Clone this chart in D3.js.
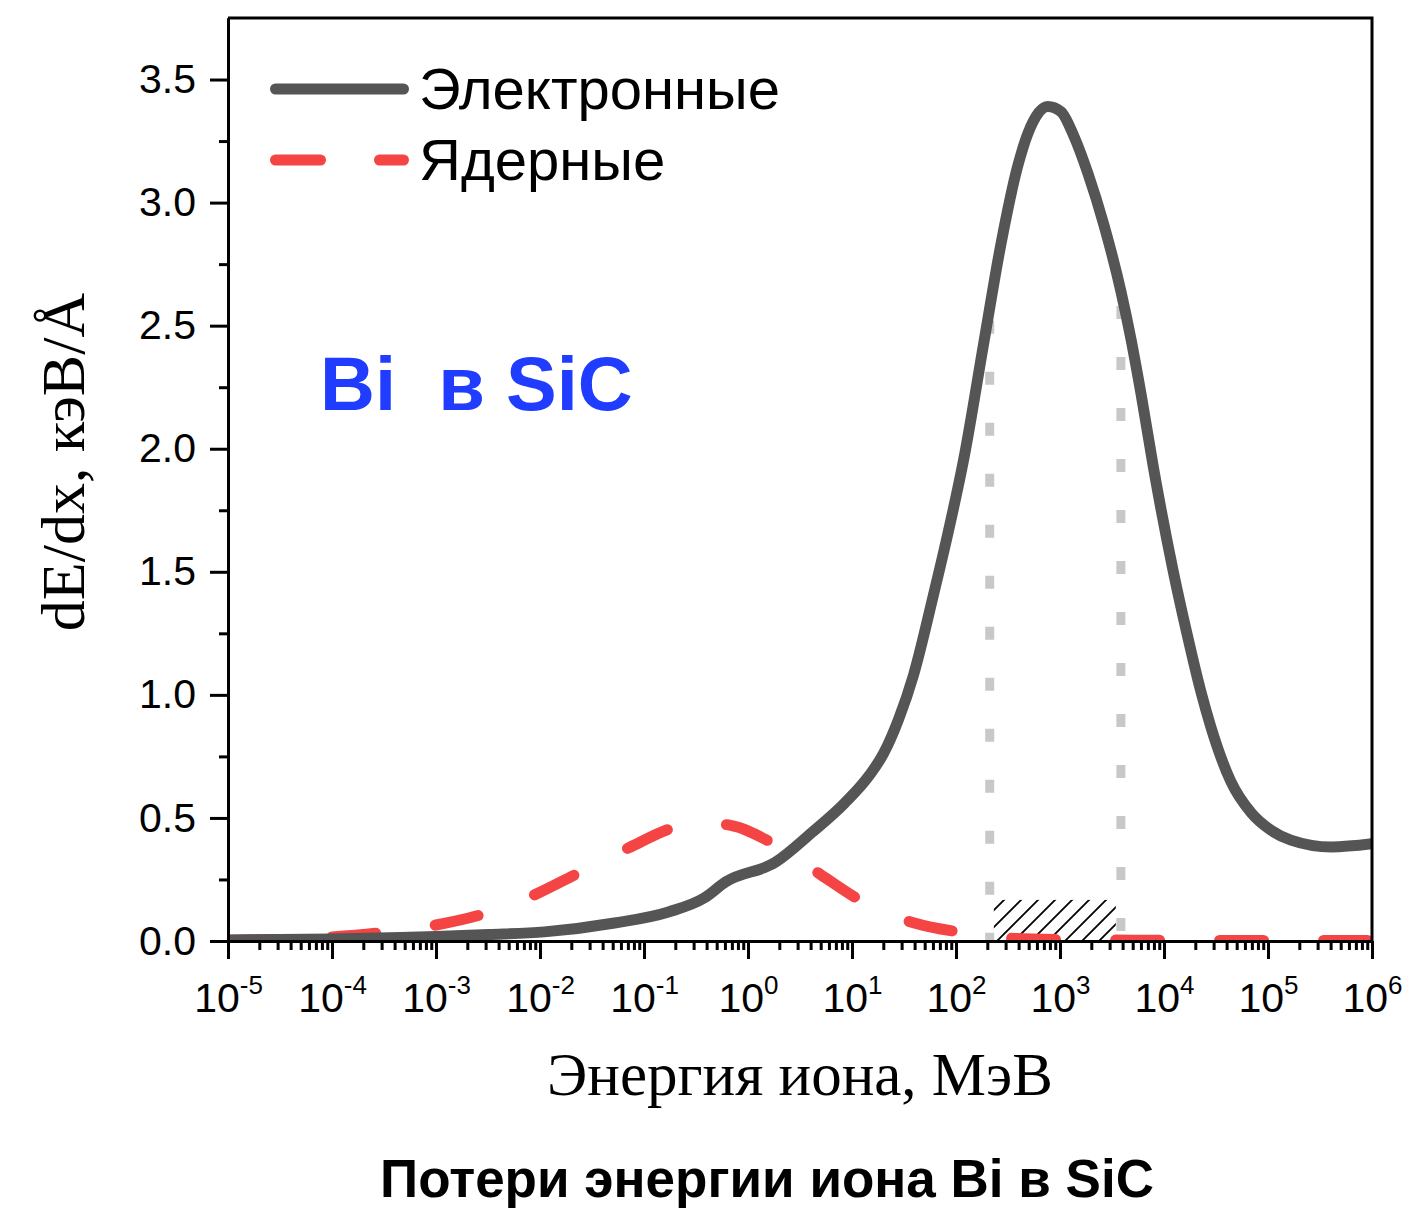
<!DOCTYPE html>
<html>
<head>
<meta charset="utf-8">
<script src="https://cdn.jsdelivr.net/npm/d3@7"></script>
<style>
  body { margin: 0; background: #fff; }
  svg text { font-family: "Liberation Sans", Arial, sans-serif; }
</style>
</head>
<body>
<div id="canvas"></div>
<script>
// Электронные потери (energy, MeV -> keV/A)
var elecEnergy = [1e-5, 1e-4, 4.6e-4, 1e-3, 3.2e-3, 0.011, 0.052, 0.172, 0.38, 0.61, 1.84, 4.1, 8.5, 14.5, 20, 28, 39, 61, 83, 119, 185, 270, 393, 490, 764, 1020, 1360, 1850, 2640, 3850, 4790, 6030, 7940, 12300, 16600, 22400, 28200, 43700, 69200, 107000, 166000, 407000, 1e6];
var elecValue  = [0.004, 0.008, 0.014, 0.018, 0.026, 0.037, 0.073, 0.118, 0.175, 0.24, 0.32, 0.44, 0.56, 0.67, 0.76, 0.90, 1.08, 1.41, 1.65, 1.96, 2.43, 2.83, 3.15, 3.28, 3.39, 3.37, 3.27, 3.12, 2.91, 2.64, 2.45, 2.22, 1.92, 1.50, 1.25, 1.02, 0.87, 0.65, 0.52, 0.45, 0.41, 0.382, 0.395];

// Ядерные потери
var nuclEnergy = [1e-5, 9.5e-5, 2.9e-4, 1e-3, 2.66e-3, 8.8e-3, 0.0219, 0.0724, 0.192, 0.355, 0.68, 1.68, 4.99, 12.3, 39.8, 123, 316, 1000, 1e4, 1e5, 1e6];
var nuclValue  = [0.003, 0.016, 0.033, 0.065, 0.106, 0.187, 0.27, 0.38, 0.46, 0.48, 0.47, 0.40, 0.27, 0.163, 0.073, 0.033, 0.012, 0.006, 0.003, 0.002, 0.002];

// energy window marked by dotted lines, with the line tops
var windowEnergy = [211, 3850];
var windowTop = [2.52, 2.58];
// hatched band
var hatchEnergy = [231, 3440];
var hatchHeight = 0.167;

var yTicks = [0, 0.5, 1.0, 1.5, 2.0, 2.5, 3.0, 3.5];
var xExponents = [-5, -4, -3, -2, -1, 0, 1, 2, 3, 4, 5, 6];

var seriesNames = ['Электронные', 'Ядерные'];
var colors = {elec: '#555555', nucl: '#f54444', dots: '#c8c8c8', label: '#1f3cff'};

var m = {t: 18, r: 34, b: 274, l: 228},
    W = 1406, H = 1215,
    w = W - m.l - m.r,
    h = H - m.t - m.b;

var svg = d3.select('#canvas').append('svg')
    .attr('width', W).attr('height', H);

var x = d3.scaleLog().domain([1e-5, 1e6]).range([m.l, m.l + w]);
var y = d3.scaleLinear().domain([0, 3.75]).range([m.t + h, m.t]);

svg.append('defs').append('clipPath').attr('id', 'clip')
  .append('rect').attr('x', m.l).attr('y', m.t).attr('width', w).attr('height', h);

var hatch = svg.select('defs').append('pattern').attr('id', 'hatch')
    .attr('patternUnits', 'userSpaceOnUse').attr('width', 17).attr('height', 17);
hatch.append('path').attr('d', 'M-2,19 L19,-2 M-4,4 L4,-4 M13,21 L21,13')
    .attr('stroke', '#000').attr('stroke-width', 1.8);

var plot = svg.append('g').attr('clip-path', 'url(#clip)');

// hatched band
plot.append('rect')
    .attr('x', x(hatchEnergy[0]))
    .attr('y', y(hatchHeight))
    .attr('width', x(hatchEnergy[1]) - x(hatchEnergy[0]))
    .attr('height', y(0) - y(hatchHeight))
    .attr('fill', 'url(#hatch)');

// dotted markers, drawn top-down so a dot sits at the top
plot.selectAll('.mark').data(windowEnergy).enter()
  .append('line').attr('class', 'mark')
    .attr('x1', function(d){return x(d)}).attr('x2', function(d){return x(d)})
    .attr('y1', function(d, i){return y(windowTop[i])}).attr('y2', y(0) + 7)
    .attr('stroke', colors.dots).attr('stroke-width', 9)
    .attr('stroke-dasharray', '13,38');

var line = d3.line()
    .x(function(d){return x(d[0])})
    .y(function(d){return y(d[1])})
    .curve(d3.curveMonotoneX);

var elec = elecEnergy.map(function(e, i){return [e, elecValue[i]]});
var nucl = nuclEnergy.map(function(e, i){return [e, nuclValue[i]]});

plot.append('path').datum(nucl)
    .attr('d', line)
    .attr('fill', 'none')
    .attr('stroke', colors.nucl).attr('stroke-width', 11)
    .attr('stroke-linecap', 'round').attr('stroke-linejoin', 'round')
    .attr('stroke-dasharray', '44,60');

plot.append('path').datum(elec)
    .attr('d', line)
    .attr('fill', 'none')
    .attr('stroke', colors.elec).attr('stroke-width', 11)
    .attr('stroke-linejoin', 'round');

// axes
var decades = xExponents.map(function(k){return Math.pow(10, k)});
var minors = [];
xExponents.slice(0, -1).forEach(function(k){
    for (var j = 2; j < 10; j++) minors.push(j * Math.pow(10, k));
});

function styleAxis(g){
    g.selectAll('path, line').attr('stroke', '#000').attr('stroke-width', 3);
}

svg.append('g').attr('transform', 'translate(0,' + y(0) + ')')
    .call(d3.axisBottom(x).tickValues(minors).tickSize(9).tickSizeOuter(0).tickFormat(''))
    .call(styleAxis);
var xAxis = svg.append('g').attr('transform', 'translate(0,' + y(0) + ')')
    .call(d3.axisBottom(x).tickValues(decades).tickSize(18).tickSizeOuter(0).tickFormat(''))
    .call(styleAxis);

xAxis.selectAll('.tick').append('text')
    .attr('y', 71)
    .attr('text-anchor', 'middle')
    .attr('fill', '#000')
    .style('font-size', '41px')
    .style('font-family', '"Liberation Sans", Arial, sans-serif')
    .each(function(d){
        var t = d3.select(this);
        t.append('tspan').text('10');
        t.append('tspan').attr('dy', -18).style('font-size', '26px')
            .text(String(Math.round(Math.log10(d))));
    });

var yMinor = d3.range(0.25, 3.75, 0.5);
svg.append('g').attr('transform', 'translate(' + m.l + ',0)')
    .call(d3.axisLeft(y).tickValues(yMinor).tickSize(9).tickSizeOuter(0).tickFormat(''))
    .call(styleAxis);
var yAxis = svg.append('g').attr('transform', 'translate(' + m.l + ',0)')
    .call(d3.axisLeft(y).tickValues(yTicks).tickSize(18).tickSizeOuter(0).tickPadding(14).tickFormat(d3.format('.1f')))
    .call(styleAxis);
yAxis.selectAll('text').style('font-size', '41px').attr('fill', '#000')
    .style('font-family', '"Liberation Sans", Arial, sans-serif');

// frame top/right
svg.append('path')
    .attr('d', 'M' + m.l + ',' + m.t + 'H' + (m.l + w) + 'V' + (m.t + h))
    .attr('fill', 'none').attr('stroke', '#000').attr('stroke-width', 3);

// legend
var legend = svg.append('g');
var legY = [89, 160];
legend.append('line').attr('x1', 275.5).attr('x2', 403.5).attr('y1', legY[0]).attr('y2', legY[0])
    .attr('stroke', colors.elec).attr('stroke-width', 11).attr('stroke-linecap', 'round');
legend.append('line').attr('x1', 275.5).attr('x2', 403.5).attr('y1', legY[1]).attr('y2', legY[1])
    .attr('stroke', colors.nucl).attr('stroke-width', 11).attr('stroke-linecap', 'round')
    .attr('stroke-dasharray', '45,59');
legend.selectAll('.lt').data(seriesNames).enter().append('text')
    .attr('x', 419).attr('y', function(d, i){return legY[i] + 20})
    .style('font-size', '58px').text(function(d){return d});

// in-plot label
svg.append('text').attr('x', 320).attr('y', 410)
    .attr('fill', colors.label).style('font-size', '76px').style('font-weight', 'bold')
    .attr('xml:space', 'preserve')
    .text('Bi  в SiC');

// axis titles
svg.append('text')
    .attr('x', m.l + w / 2).attr('y', 1095)
    .attr('text-anchor', 'middle')
    .style('font-family', '"Liberation Serif", "Times New Roman", serif')
    .style('font-size', '61px')
    .text('Энергия иона, МэВ');

svg.append('text')
    .attr('transform', 'translate(84,462) rotate(-90)')
    .attr('text-anchor', 'middle')
    .style('font-family', '"Liberation Serif", "Times New Roman", serif')
    .style('font-size', '62px')
    .text('dE/dx, кэВ/Å');

// title
svg.append('text')
    .attr('x', 767).attr('y', 1197)
    .attr('text-anchor', 'middle')
    .style('font-size', '53px').style('font-weight', 'bold')
    .text('Потери энергии иона Bi в SiC');
</script>
</body>
</html>
